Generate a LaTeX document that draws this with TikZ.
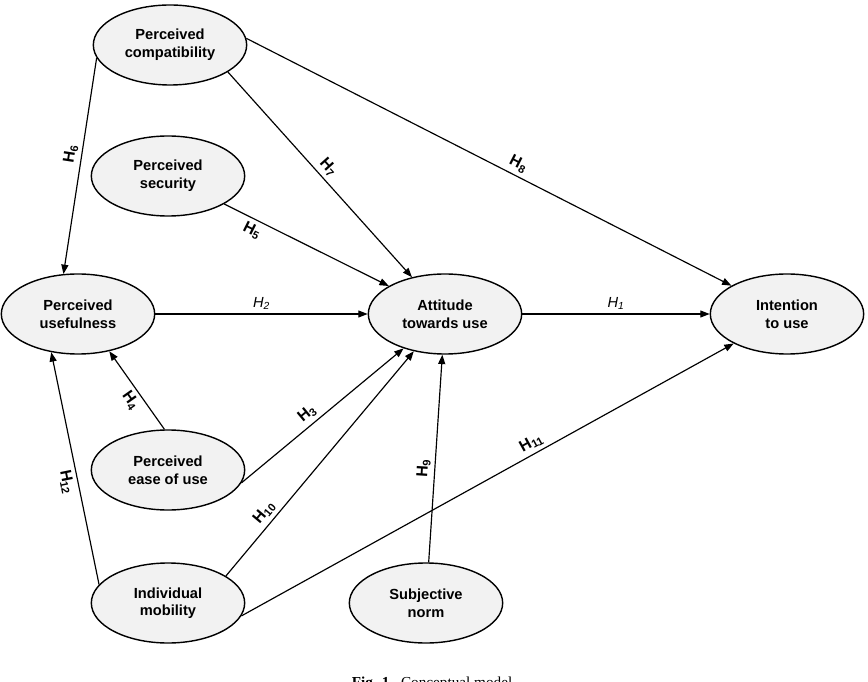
\documentclass[tikz,border=0pt]{standalone}
\usepackage{fontspec}
\setmainfont{Liberation Sans}
\newfontfamily\capfont{Liberation Serif}
\usetikzlibrary{arrows.meta,shapes.geometric}
\begin{document}
\begin{tikzpicture}[x=0.03cm,y=-0.03cm,
  el/.style={draw,line width=1.2pt,ellipse,fill=black!5,minimum width=4.6cm,minimum height=2.4cm,inner sep=0pt,align=center,font=\bfseries\fontsize{12.5}{15}\selectfont},
  ar/.style={line width=1pt,-{Triangle[length=8pt,width=6pt]}},
  hl/.style={font=\bfseries\fontsize{13.5}{15}\selectfont,sloped},
  hi/.style={font=\itshape\fontsize{12.5}{15}\selectfont}]
\clip (0,0) rectangle (868,682);
\node[el] (pc) at (170,45) {Perceived\\compatibility};
\node[el] (ps) at (168,176) {Perceived\\security};
\node[el] (pu) at (78,314) {Perceived\\usefulness};
\node[el] (at) at (445,314) {Attitude\\towards use};
\node[el] (it) at (787,314) {Intention\\to use};
\node[el] (pe) at (168,470) {Perceived\\ease of use};
\node[el] (im) at (168,603) {Individual\\mobility};
\node[el] (sn) at (426,603) {Subjective\\norm};
\draw[ar] (pc.190) -- node[hl,above,pos=0.45] {H\textsubscript{6}} (pu.110);
\draw[ar] (pc.-25) -- node[hl,above,pos=0.5] {H\textsubscript{7}} (at);
\draw[ar] (pc.5) -- node[hl,above,pos=0.55] {H\textsubscript{8}} (it);
\draw[ar] (ps) -- node[hl,below,pos=0.2] {H\textsubscript{5}} (at);
\draw[ar] (pu) -- node[hi,above] {H\textsubscript{2}} (at);
\draw[ar] (at) -- node[hi,above] {H\textsubscript{1}} (it);
\draw[ar] (pe.95) -- node[hl,below,pos=0.45] {H\textsubscript{4}} (pu.-50);
\draw[ar] (pe.-10) -- node[hl,above,pos=0.45] {H\textsubscript{3}} (at);
\draw[ar] (im.165) -- node[hl,below,pos=0.45] {H\textsubscript{12}} (pu.235);
\draw[ar] (im.25) -- node[hl,above,pos=0.25] {H\textsubscript{10}} (at);
\draw[ar] (im.-10) -- node[hl,above,pos=0.6] {H\textsubscript{11}} (it);
\draw[ar] (sn) -- node[hl,above,pos=0.45] {H\textsubscript{9}} (at);
\node[font=\capfont\fontsize{13}{15}\selectfont] (cap) at (434,684) {\textbf{Fig. 1.}\ \ Conceptual model.};
\end{tikzpicture}
\end{document}
